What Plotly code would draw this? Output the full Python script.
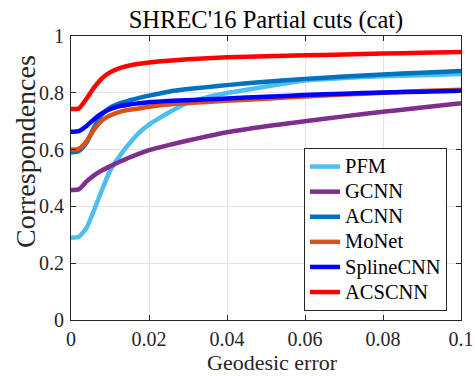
import plotly.graph_objects as go

x_err = [0, 0.002, 0.004, 0.006, 0.008, 0.01, 0.0125, 0.015, 0.0175, 0.02, 0.025,
         0.03, 0.035, 0.04, 0.05, 0.06, 0.07, 0.08, 0.09, 0.1]

pfm = [0.29, 0.293, 0.325, 0.39, 0.46, 0.525, 0.578, 0.622, 0.66, 0.688, 0.73,
       0.765, 0.785, 0.799, 0.822, 0.843, 0.852, 0.858, 0.862, 0.866]
gcnn = [0.458, 0.46, 0.488, 0.51, 0.527, 0.541, 0.557, 0.572, 0.586, 0.598, 0.616,
        0.632, 0.647, 0.661, 0.682, 0.70, 0.717, 0.733, 0.748, 0.763]
acnn = [0.59, 0.595, 0.625, 0.68, 0.725, 0.748, 0.763, 0.773, 0.782, 0.79, 0.804,
        0.813, 0.820, 0.827, 0.839, 0.849, 0.857, 0.864, 0.871, 0.877]
monet = [0.60, 0.603, 0.63, 0.672, 0.703, 0.72, 0.733, 0.74, 0.745, 0.751, 0.759,
         0.764, 0.768, 0.772, 0.779, 0.787, 0.794, 0.80, 0.806, 0.811]
spline = [0.663, 0.665, 0.683, 0.708, 0.728, 0.742, 0.753, 0.759, 0.763, 0.767, 0.771,
          0.774, 0.777, 0.780, 0.786, 0.792, 0.797, 0.801, 0.804, 0.807]
acscnn = [0.743, 0.745, 0.78, 0.82, 0.852, 0.872, 0.887, 0.896, 0.902, 0.907, 0.913,
          0.918, 0.922, 0.925, 0.929, 0.932, 0.935, 0.938, 0.941, 0.944]

names = ["PFM", "GCNN", "ACNN", "MoNet", "SplineCNN", "ACSCNN"]
series = [pfm, gcnn, acnn, monet, spline, acscnn]
colors = ["#4DBEEE", "#7E2F8E", "#0072BD", "#D95319", "#0000FF", "#FF0000"]

x_ticks = [0, 0.02, 0.04, 0.06, 0.08, 0.1]
x_ticktext = ["0", "0.02", "0.04", "0.06", "0.08", "0.1"]
y_ticks = [0, 0.2, 0.4, 0.6, 0.8, 1]
y_ticktext = ["0", "0.2", "0.4", "0.6", "0.8", "1"]

title_text = "SHREC'16 Partial cuts (cat)"
x_label = "Geodesic error"
y_label = "Correspondences"

FONT = "Liberation Serif"

fig = go.Figure()
for n, s, c in zip(names, series, colors):
    fig.add_trace(go.Scatter(x=x_err, y=s, name='<span style="font-size:20.5px">%s</span>' % n,
                             mode="lines",
                             line=dict(color=c, width=4.5, shape="spline", smoothing=0.6)))

axis_common = dict(showline=True, linecolor="#262626", linewidth=1, mirror="ticks",
                   ticks="inside", ticklen=5, tickcolor="#262626", automargin=False,
                   showgrid=True, gridcolor="#E3E3E3", gridwidth=1, zeroline=False,
                   tickfont=dict(family=FONT, size=20, color="#262626"))

fig.update_layout(
    width=475, height=376,
    margin=dict(l=71, r=14, t=36, b=56, autoexpand=False),
    paper_bgcolor="white", plot_bgcolor="white",
    font=dict(family=FONT, color="#262626"),
    title=dict(text=title_text, x=266/475, xanchor="center",
               y=1 - 19/376, yanchor="middle", automargin=False,
               font=dict(family=FONT, size=24.5, color="black")),
    xaxis=dict(range=[0, 0.1], tickvals=x_ticks, ticktext=x_ticktext,
               ticklabelstandoff=1, **axis_common),
    yaxis=dict(range=[0, 1], tickvals=y_ticks, ticktext=y_ticktext,
               ticklabelstandoff=2, **axis_common),
    legend=dict(x=(304 - 71) / 390, y=(320 - 311) / 284, xanchor="left", yanchor="bottom",
                bgcolor="white", bordercolor="#262626", borderwidth=1,
                font=dict(family=FONT, size=17, color="black"),
                tracegroupgap=0, itemwidth=30),
    showlegend=True,
    annotations=[
        dict(text=x_label, xref="paper", yref="paper", x=(272 - 71) / 390, y=(320 - 376) / 284,
             xanchor="center", yanchor="bottom", showarrow=False, borderpad=0,
             font=dict(family=FONT, size=22, color="#262626")),
        dict(text=y_label, xref="paper", yref="paper", x=(25 - 71) / 390, y=(320 - 152) / 284,
             xanchor="center", yanchor="middle", showarrow=False, textangle=-90,
             font=dict(family=FONT, size=28, color="#262626")),
    ],
)

fig.write_html("out.html")
